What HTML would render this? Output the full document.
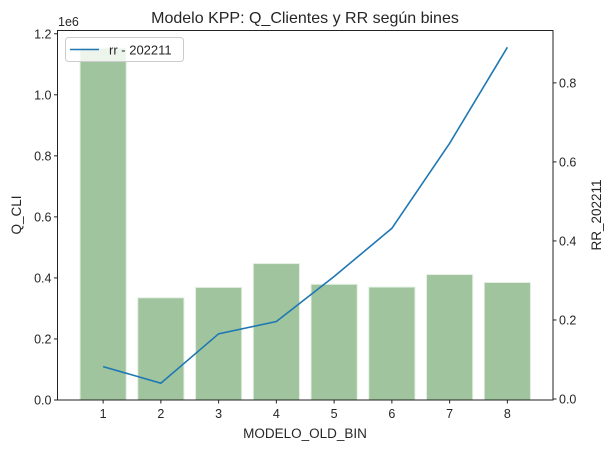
<!DOCTYPE html>
<html><head><meta charset="utf-8"><style>
body{margin:0;background:#fff;}
svg{font-family:"Liberation Sans","DejaVu Sans",sans-serif;display:block}
</style></head><body>
<svg id="chart" width="609" height="449" xmlns="http://www.w3.org/2000/svg"></svg>
<script>
const categories=[1,2,3,4,5,6,7,8];
const qCli=[1.153,0.335,0.369,0.447,0.379,0.370,0.411,0.385];
const rr=[0.082,0.040,0.165,0.196,0.310,0.432,0.647,0.890];
const leftTicks=[0,0.2,0.4,0.6,0.8,1.0,1.2];
const rightTicks=[0,0.2,0.4,0.6,0.8];

const NS="http://www.w3.org/2000/svg";
const svg=document.getElementById('chart');
const L=57.5,R=553,T=30.5,B=400;
function mk(tag,attrs,parent){const e=document.createElementNS(NS,tag);for(const k in attrs)e.setAttribute(k,attrs[k]);(parent||svg).appendChild(e);return e;}
const xmin=0.6-0.39,xmax=8.4+0.39;
const x=v=>L+(v-xmin)/(xmax-xmin)*(R-L);
const qMax=Math.max(...qCli)*1.05;
const yL=v=>B-v/qMax*(B-T);
const rmin=Math.min(...rr),rmax=Math.max(...rr),rp=(rmax-rmin)*0.05;
const r0=rmin-rp,r1=rmax+rp;
const yR=v=>B-(v-r0)/(r1-r0)*(B-T);

categories.forEach((c,i)=>{
  const b=mk('rect',{x:x(c)-0.4*(x(2)-x(1)),y:yL(qCli[i]),width:0.8*(x(2)-x(1)),height:B-yL(qCli[i]),fill:'#a0c59e',stroke:'#e4efe2','stroke-width':1});
  
  
});
const pts=categories.map((c,i)=>x(c)+','+yR(rr[i])).join(' ');
const ln=mk('polyline',{points:pts,fill:'none',stroke:'#1f77b4','stroke-width':1.6});


const fr=mk('rect',{x:L,y:T,width:R-L,height:B-T,fill:'none',stroke:'#222','stroke-width':1});


categories.forEach(c=>{
  mk('line',{x1:x(c),x2:x(c),y1:B,y2:B+3.5,stroke:'#222'});
  const t=mk('text',{x:x(c),y:B+18,'text-anchor':'middle','font-size':12.5,fill:'#262626'});
  t.textContent=c;
  
  
});
leftTicks.forEach(v=>{
  mk('line',{x1:L,x2:L-3.5,y1:yL(v),y2:yL(v),stroke:'#222'});
  const t=mk('text',{x:L-6,y:yL(v)+4.5,'text-anchor':'end','font-size':12.5,fill:'#262626'});
  t.textContent=v.toFixed(1);
  
  
});
rightTicks.forEach(v=>{
  mk('line',{x1:R,x2:R+3.5,y1:yR(v),y2:yR(v),stroke:'#222'});
  const t=mk('text',{x:R+6,y:yR(v)+4.5,'text-anchor':'start','font-size':12.5,fill:'#262626'});
  t.textContent=v.toFixed(1);
  
  
});
</script>
<script>
(function(){
const svg=document.getElementById('chart');
svg.insertAdjacentHTML('beforeend',`
<text x="305" y="23" text-anchor="middle" font-size="16" fill="#262626">Modelo KPP: Q_Clientes y RR según bines</text>
<text x="58" y="26" font-size="12.5" fill="#262626">1e6</text>
<text x="305" y="438" text-anchor="middle" font-size="13.5" fill="#262626">MODELO_OLD_BIN</text>
<text transform="translate(21,215) rotate(-90)" text-anchor="middle" font-size="13.5" fill="#262626">Q_CLI</text>
<text transform="translate(601,215) rotate(-90)" text-anchor="middle" font-size="13.5" fill="#262626">RR_202211</text>
<g>
<rect x="65.5" y="37.5" width="118" height="24" rx="3" fill="#fff" fill-opacity="0.8" stroke="#ccc"/>
<line x1="70" x2="99" y1="49.5" y2="49.5" stroke="#1f77b4" stroke-width="1.6"/>
<text x="109" y="54.5" font-size="13" fill="#262626">rr - 202211</text>
</g>`);
})();
</script>
</body></html>
